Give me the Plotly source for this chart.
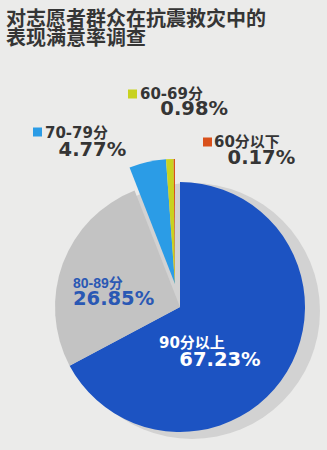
import plotly.graph_objects as go

# Survey: satisfaction with volunteers' performance in earthquake relief
categories = ["90分以上", "80-89分", "70-79分", "60-69分", "60分以下"]
shares = [67.23, 26.85, 4.77, 0.98, 0.17]
slice_colors = ["#1c53c2", "#c3c3c3", "#2b9ce6", "#c8d21f", "#d9501b"]
# the three smallest groups are lifted out of the pie together
lifted = [False, False, True, True, True]

title_lines = ["对志愿者群众在抗震救灾中的", "表现满意率调查"]

W, H = 327, 450
BG = "#ebebea"
DARK = "#353535"
CJK = "Noto Sans CJK SC"
NUM = "DejaVu Sans"
CLEAR = "rgba(0,0,0,0)"

# pie geometry in pixels
CX, CY, R = 180, 307, 125
LIFT_DX, LIFT_DY = -5, -23


def px(x):
    return x / W


def py(y):
    return 1 - y / H


def pie_domain(cx, cy, r):
    return dict(x=[px(cx - r), px(cx + r)], y=[py(cy + r), py(cy - r)])


fig = go.Figure()

# main body of the pie
fig.add_trace(go.Pie(
    labels=categories,
    values=shares,
    sort=False,
    direction="clockwise",
    rotation=0,
    marker=dict(colors=[CLEAR if l else c for c, l in zip(slice_colors, lifted)],
                line=dict(width=0)),
    textinfo="none",
    hoverinfo="label+percent",
    showlegend=False,
    domain=pie_domain(CX, CY, R),
))

# the lifted slices, same angles, shifted as one block
fig.add_trace(go.Pie(
    labels=categories,
    values=shares,
    sort=False,
    direction="clockwise",
    rotation=0,
    marker=dict(colors=[c if l else CLEAR for c, l in zip(slice_colors, lifted)],
                line=dict(width=0)),
    textinfo="none",
    hoverinfo="skip",
    showlegend=False,
    domain=pie_domain(CX + LIFT_DX, CY + LIFT_DY, R),
))

annotations = []

# two-line title
annotations.append(dict(
    x=px(4), y=py(27), xref="paper", yref="paper",
    xanchor="left", yanchor="middle", align="left", showarrow=False,
    text="<br>".join(f"<span style='font-size:20px'>{t}</span>" for t in title_lines),
    font=dict(family=CJK, size=14.5, color=DARK, weight=700),
))


def nb(n):
    return "&nbsp;" * n


# name + value label blocks
label_specs = [
    dict(i=3, swatch=(128, 94), pos=(138, 102), base=12, nfont=NUM, nsize=15, indent=3, col=DARK),
    dict(i=2, swatch=(33, 132), pos=(43, 142), base=14, nfont=NUM, nsize=15, indent=2, col=DARK),
    dict(i=4, swatch=(203, 142), pos=(212, 151), base=13, nfont=NUM, nsize=15, indent=2, col=DARK),
    dict(i=1, swatch=None, pos=(71, 292), base=13, nfont="Liberation Sans", nsize=14, indent=0, col="#2a58b4"),
    dict(i=0, swatch=None, pos=(157, 352), base=14, nfont=NUM, nsize=15, indent=3, col="#ffffff"),
]
VALUE_SIZE = 19.5

shapes = [
    # soft drop shadow behind the pie
    dict(type="circle", layer="below", xref="paper", yref="paper",
         xsizemode="pixel", ysizemode="pixel",
         xanchor=px(192), yanchor=py(311),
         x0=-128, x1=128, y0=-128, y1=128,
         fillcolor="#d2d2d2", line=dict(width=0)),
]

for s in label_specs:
    i = s["i"]
    if s["swatch"] is not None:
        sx, sy = s["swatch"]
        shapes.append(dict(
            type="rect", xref="paper", yref="paper",
            xsizemode="pixel", ysizemode="pixel",
            xanchor=px(sx), yanchor=py(sy),
            x0=0, x1=9, y0=-4.5, y1=4.5,
            fillcolor=slice_colors[i], line=dict(width=0),
        ))
    x, y = s["pos"]
    text = (f"<span style='font-size:{s['nsize']}px;font-family:{s['nfont']}, {CJK}'>"
            f"{categories[i]}</span><br>"
            f"<span style='font-size:{VALUE_SIZE}px;font-family:{NUM}'>"
            f"{nb(s['indent'])}{shares[i]:.2f}%</span>")
    annotations.append(dict(
        x=px(x), y=py(y), xref="paper", yref="paper",
        xanchor="left", yanchor="middle", align="left", showarrow=False,
        text=text,
        font=dict(family=CJK, size=s["base"], color=s["col"], weight=700),
    ))

fig.update_layout(
    width=W, height=H,
    margin=dict(l=0, r=0, t=0, b=0),
    paper_bgcolor=BG,
    plot_bgcolor=BG,
    annotations=annotations,
    shapes=shapes,
)

fig.write_html("out.html")
